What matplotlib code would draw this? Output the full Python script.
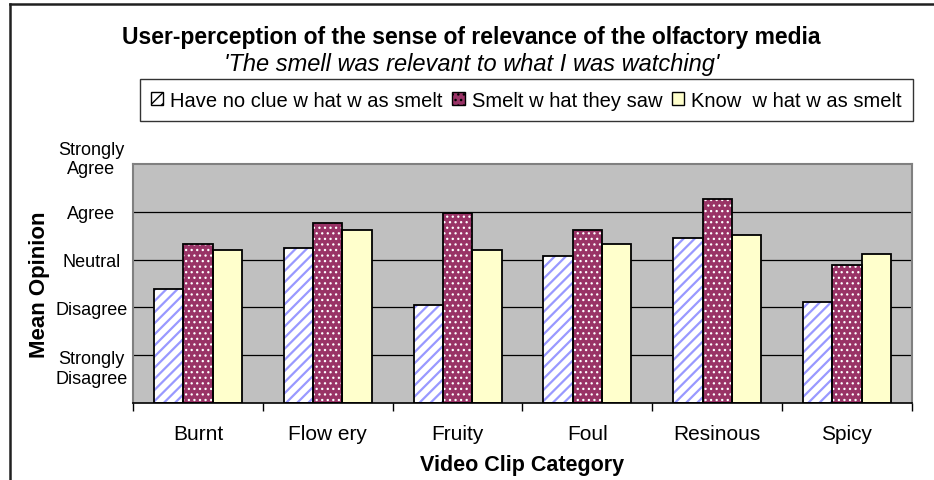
import numpy as np
import matplotlib
matplotlib.use('Agg')
import matplotlib.pyplot as plt
from matplotlib.lines import Line2D
from matplotlib.patches import Patch
from matplotlib.transforms import ScaledTranslation

plt.rcParams['font.family'] = ['Liberation Sans', 'DejaVu Sans']

# data (scale 1 = Strongly Disagree ... 5 = Strongly Agree)
categories = ['Burnt', 'Flow ery', 'Fruity', 'Foul', 'Resinous', 'Spicy']
no_clue = [2.38, 3.25, 2.06, 3.07, 3.45, 2.11]
smelt_saw = [3.33, 3.77, 3.97, 3.62, 4.26, 2.88]
know_smelt = [3.21, 3.62, 3.21, 3.33, 3.52, 3.12]
series_names = ['Have no clue w hat w as smelt', 'Smelt w hat they saw', 'Know  w hat w as smelt']
y_ticks = [1, 2, 3, 4, 5]
y_labels = ['Strongly\nDisagree', 'Disagree', 'Neutral', 'Agree', 'Strongly\nAgree']

fig = plt.figure(figsize=(9.34, 4.81), dpi=100)
ax = fig.add_axes([0.1424, 0.160, 0.834, 0.497])

x = np.arange(len(categories)) + 0.5
w = 0.226
# (face, hatch colour, hatch, hatch linewidth)
styles = [('white', '#9999FF', '///', 1.6),
          ('#993366', 'white', '...', 0.9),
          ('#FFFFCC', '#FFFFCC', None, 1.0)]
series = [no_clue, smelt_saw, know_smelt]

for i, (vals, (fc, hc, h, hlw)) in enumerate(zip(series, styles)):
    pos = x + (i - 1) * w
    with plt.rc_context({'hatch.linewidth': hlw}):
        ax.bar(pos, vals, w, color=fc, edgecolor=hc, hatch=h, linewidth=0, zorder=2)
    ax.bar(pos, vals, w, color='none', edgecolor='black', linewidth=1.3, zorder=3)

ax.set_facecolor('#C0C0C0')
ax.set_xlim(0, len(categories))
ax.set_ylim(0, 5)
for yy in y_ticks[:-1]:
    ax.axhline(yy, color='black', linewidth=0.9, zorder=1)

for s in ['left', 'top', 'right']:
    ax.spines[s].set_color('#808080')
    ax.spines[s].set_linewidth(1.5)
ax.spines['bottom'].set_color('black')
ax.spines['bottom'].set_linewidth(1.2)

ax.set_xticks(np.arange(len(categories) + 1))
ax.set_xticklabels([])
ax.set_xticks(x, minor=True)
ax.set_xticklabels(categories, minor=True, fontsize=15)
ax.tick_params(axis='x', which='major', direction='out', length=6, width=1, color='black')
ax.tick_params(axis='x', which='minor', length=0, pad=15)

ax.set_yticks(y_ticks)
ax.set_yticklabels(y_labels, fontsize=13, ha='center', linespacing=1.2)
ax.tick_params(axis='y', length=0, pad=30)
# two-line labels sit a little off their gridline in the original
for lab in ax.get_yticklabels():
    if lab.get_text().startswith('Strongly'):
        dy = 6 if 'Agree' in lab.get_text() else -7
        lab.set_transform(lab.get_transform() + ScaledTranslation(0, dy / 72, fig.dpi_scale_trans))

ax.set_xlabel('Video Clip Category', fontsize=15.5, fontweight='bold', labelpad=8)
ax.set_ylabel('Mean Opinion', fontsize=16, fontweight='bold', labelpad=4)

fig.text(0.505, 0.921, 'User-perception of the sense of relevance of the olfactory media',
         ha='center', va='center', fontsize=16.5, fontweight='bold')
fig.text(0.505, 0.866, "'The smell was relevant to what I was watching'",
         ha='center', va='center', fontsize=17, style='italic')

handles = []
for fc, hc, h, hlw in styles:
    handles.append(Patch(facecolor=fc, edgecolor='black', hatch=h, linewidth=1))
leg = fig.legend(handles, series_names, loc='center', bbox_to_anchor=(0.5635, 0.79), ncol=3,
                 fontsize=14.5, frameon=True, fancybox=False, edgecolor='black',
                 handlelength=0.6, handleheight=0.6, handletextpad=0.35, columnspacing=0.5,
                 borderpad=0.55, borderaxespad=0)
leg.get_frame().set_linewidth(1)

# outer chart border (left and top edges only are visible)
fig.add_artist(Line2D([0.0107, 0.0107], [0, 0.99], transform=fig.transFigure, color='#202020', linewidth=1.8))
fig.add_artist(Line2D([0.0107, 1.0], [0.99, 0.99], transform=fig.transFigure, color='#202020', linewidth=1.8))

fig.savefig('out.png', dpi=100)
